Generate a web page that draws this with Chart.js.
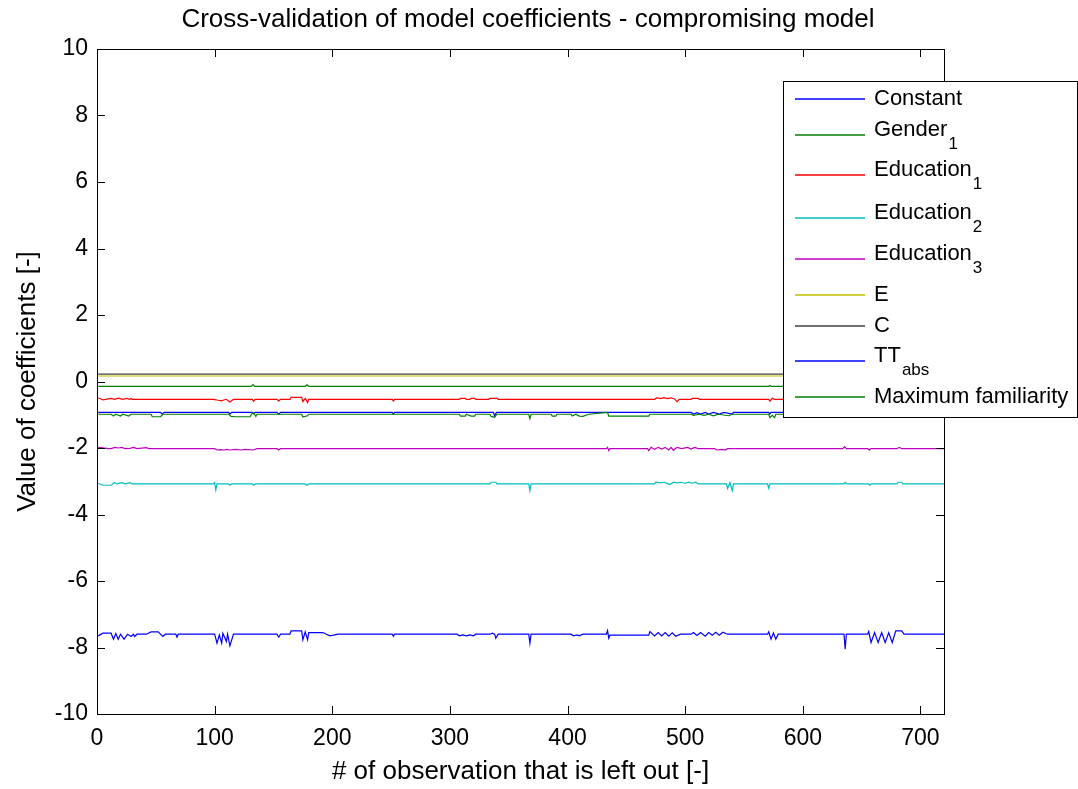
<!DOCTYPE html>
<html lang="en">
<head>
<meta charset="UTF-8">
<title>Cross-validation of model coefficients</title>
<script src="https://cdn.jsdelivr.net/npm/chart.js@4/dist/chart.umd.min.js"></script>
<style>
  body { margin: 0; background: #fff; }
  canvas { display: block; }
</style>
</head>
<body>
<canvas id="myChart" width="1078" height="789"></canvas>
<script>
const chartTitle = "Cross-validation of model coefficients - compromising model";

// legend labels (name + subscript)
const seriesNames = ["Constant", "Gender", "Education", "Education", "Education", "E", "C", "TT", "Maximum familiarity"];
const seriesSubs = ["", "1", "1", "2", "3", "", "", "abs", ""];
const seriesColors = ["#0000ff", "#008000", "#ff0000", "#00bfbf", "#bf00bf", "#bfbf00", "#404040", "#0000ff", "#008000"];

const xTicks = [0, 100, 200, 300, 400, 500, 600, 700];
const yTicks = [-10, -8, -6, -4, -2, 0, 2, 4, 6, 8, 10];

// values: [left-out observation, coefficient]
const constantPts = [[1,-7.65],[5,-7.57],[12,-7.57],[14,-7.75],[16,-7.58],[18,-7.75],[20,-7.6],[23,-7.75],[26,-7.6],[29,-7.67],[31,-7.6],[32,-7.67],[34,-7.6],[42,-7.6],[46,-7.53],[52,-7.53],[56,-7.67],[58,-7.6],[67,-7.6],[68,-7.69],[69,-7.6],[100,-7.6],[102,-7.87],[104,-7.62],[106,-7.87],[107,-7.57],[110,-7.82],[111,-7.6],[113,-7.95],[116,-7.6],[153,-7.6],[154.5,-7.69],[156,-7.6],[164,-7.6],[165,-7.5],[174,-7.5],[175,-7.77],[177,-7.53],[179,-7.77],[180,-7.55],[192,-7.55],[195,-7.6],[198,-7.65],[201,-7.63],[205,-7.6],[251,-7.6],[252,-7.66],[253,-7.6],[306,-7.6],[308,-7.65],[311,-7.62],[314,-7.65],[317,-7.62],[320,-7.65],[322,-7.6],[334,-7.6],[336,-7.57],[338,-7.6],[339,-7.72],[341,-7.6],[367,-7.6],[368,-7.87],[369,-7.6],[403,-7.6],[405,-7.65],[408,-7.62],[410,-7.65],[413,-7.6],[433,-7.6],[434,-7.49],[435,-7.72],[436,-7.63],[469,-7.63],[470,-7.52],[474,-7.65],[477,-7.55],[480,-7.65],[483,-7.55],[486,-7.66],[489,-7.56],[492,-7.66],[496,-7.6],[505,-7.6],[507,-7.55],[510,-7.64],[513,-7.55],[517,-7.66],[520,-7.55],[523,-7.63],[526,-7.54],[529,-7.63],[532,-7.54],[536,-7.6],[570,-7.6],[571,-7.53],[573,-7.75],[575,-7.56],[577,-7.75],[579,-7.6],[635,-7.6],[636,-8.05],[637,-7.6],[655,-7.6],[656,-7.52],[658,-7.85],[661,-7.55],[664,-7.85],[667,-7.55],[670,-7.85],[673,-7.56],[676,-7.85],[679,-7.5],[684,-7.5],[686,-7.6],[720,-7.6]];
const gender1Pts = [[1,-0.145],[131,-0.145],[132.6,-0.09],[134,-0.145],[177,-0.145],[178.5,-0.1],[180,-0.145],[571,-0.145],[572,-0.12],[573,-0.145],[720,-0.145]];
const edu1Pts = [[1,-0.49],[5,-0.555],[12,-0.51],[15,-0.535],[18,-0.5],[22,-0.535],[25,-0.51],[28,-0.535],[29,-0.51],[30,-0.535],[99,-0.535],[103,-0.565],[106,-0.585],[107,-0.565],[110,-0.535],[113,-0.615],[116,-0.535],[132,-0.535],[133,-0.595],[134.5,-0.535],[153,-0.535],[154.5,-0.585],[156,-0.535],[164,-0.535],[165,-0.475],[174,-0.475],[175,-0.605],[177,-0.505],[179,-0.635],[180,-0.535],[251,-0.535],[252,-0.585],[253,-0.535],[308,-0.535],[309,-0.505],[313,-0.505],[314,-0.535],[317,-0.535],[318,-0.505],[321,-0.505],[322,-0.535],[333,-0.535],[334,-0.505],[340,-0.505],[341,-0.535],[474,-0.535],[476,-0.485],[479,-0.515],[482,-0.485],[485,-0.515],[488,-0.49],[491,-0.525],[493,-0.605],[495,-0.535],[505,-0.535],[506,-0.505],[511,-0.505],[512,-0.535],[571,-0.535],[572,-0.595],[574,-0.505],[576,-0.535],[720,-0.535]];
const edu2Pts = [[1,-3.06],[5,-3.12],[12,-3.12],[15,-3.04],[17,-3.08],[21,-3.04],[24,-3.08],[28,-3.04],[30,-3.08],[99,-3.08],[100,-3.04],[101,-3.26],[102,-3.08],[112,-3.08],[113,-3.12],[114.5,-3.08],[132,-3.08],[133,-3.12],[134.5,-3.08],[177,-3.08],[178.5,-3.12],[180,-3.08],[334,-3.08],[335,-3.03],[339,-3.03],[340,-3.08],[367,-3.08],[368,-3.28],[369,-3.08],[474,-3.08],[475,-3.03],[479,-3.05],[482,-3.03],[485,-3.07],[487,-3.1],[490,-3.03],[493,-3.05],[496,-3.03],[500,-3.06],[503,-3.03],[506,-3.06],[509,-3.03],[511,-3.08],[535,-3.08],[536,-3.22],[538,-3.04],[540,-3.28],[541,-3.08],[570,-3.08],[571,-3.21],[572,-3.08],[635,-3.08],[636,-3.03],[637,-3.08],[656,-3.08],[657,-3.12],[658,-3.08],[680,-3.08],[681,-3.03],[684,-3.03],[685,-3.08],[720,-3.08]];
const edu3Pts = [[1,-1.98],[10,-2.02],[12,-2.02],[15,-1.98],[18,-2.0],[21,-1.98],[24,-2.02],[28,-2.01],[31,-1.98],[34,-2.02],[42,-1.99],[44,-2.02],[100,-2.02],[102,-2.06],[105,-2.05],[108,-2.06],[110,-2.04],[113,-2.06],[118,-2.04],[122,-2.06],[126,-2.04],[133,-2.06],[136,-2.02],[153,-2.02],[154.5,-2.06],[156,-2.02],[433,-2.02],[434,-1.98],[435,-2.08],[436,-2.02],[468,-2.02],[469,-2.08],[471,-1.98],[474,-2.04],[477,-1.98],[480,-2.03],[483,-1.98],[486,-2.06],[488,-1.98],[490,-2.07],[493,-1.98],[497,-2.02],[502,-1.98],[505,-2.03],[508,-1.98],[511,-2.02],[525,-2.02],[527,-2.06],[531,-2.04],[534,-2.06],[536,-2.02],[634,-2.02],[635.5,-1.96],[637,-2.02],[655,-2.02],[656.6,-2.06],[658,-2.02],[680,-2.02],[682,-1.98],[684,-2.02],[720,-2.02]];
const ePts = [[1,0.165],[720,0.165]];
const cPts = [[1,0.22],[720,0.22]];
const ttAbsPts = [[1,-0.93],[54,-0.93],[55.5,-0.98],[57,-0.93],[112,-0.93],[113,-0.98],[114.5,-0.93],[132,-0.93],[133,-0.97],[134.5,-0.93],[153,-0.93],[154.5,-0.98],[156,-0.93],[251,-0.93],[252,-0.98],[253,-0.93],[337,-0.93],[338,-1.04],[339.5,-0.93],[505,-0.93],[507,-0.98],[510,-0.94],[513,-0.98],[517,-0.93],[520,-0.98],[524,-0.93],[529,-0.98],[533,-0.93],[540,-0.98],[541,-0.93],[571,-0.93],[572,-0.98],[573,-0.93],[720,-0.93]];
const maxFamPts = [[1,-0.985],[12,-0.985],[14,-1.04],[16,-0.985],[20,-1.04],[22,-0.985],[27,-1.04],[29,-0.985],[46,-0.985],[47,-1.06],[54,-1.06],[56,-0.985],[112,-0.985],[114,-1.05],[118,-1.06],[130,-1.06],[132.5,-0.93],[134,-0.985],[135,-1.05],[136,-0.985],[174,-0.985],[175,-1.06],[177,-1.05],[179,-1.03],[180,-0.985],[308,-0.985],[309,-1.04],[313,-1.04],[314,-0.985],[318,-1.04],[321,-1.04],[322,-0.985],[334,-0.985],[335,-1.05],[338,-1.08],[340,-0.985],[367,-0.985],[368,-1.12],[369,-0.985],[386,-0.985],[387,-1.04],[390,-1.04],[391,-0.985],[403,-0.985],[404,-1.04],[407,-0.985],[410,-1.04],[413,-1.05],[418,-0.985],[434,-0.93],[435,-1.04],[469,-1.04],[470,-0.985],[505,-0.985],[507,-1.02],[512,-0.985],[516,-1.02],[520,-0.985],[524,-1.03],[528,-0.985],[537,-1.03],[540,-0.985],[571,-0.985],[572,-1.09],[574,-1.02],[576,-1.09],[577,-0.985],[720,-0.985]];

const allSeries = [constantPts, gender1Pts, edu1Pts, edu2Pts, edu3Pts, ePts, cPts, ttAbsPts, maxFamPts];

const FONT = "'Liberation Sans', Arial, sans-serif";

// MATLAB-like box with inward ticks on all sides, title and legend
const boxPlugin = {
    id: "box",
    afterDraw(chart) {
        const ctx = chart.ctx;
        const a = chart.chartArea;
        const xs = chart.scales.x, ys = chart.scales.y;
        const tl = 8;
        ctx.save();
        ctx.strokeStyle = "#000";
        ctx.lineWidth = 1;
        ctx.beginPath();
        xTicks.forEach(v => {
            const px = Math.round(xs.getPixelForValue(v)) + 0.5;
            ctx.moveTo(px, a.bottom); ctx.lineTo(px, a.bottom - tl);
            ctx.moveTo(px, a.top); ctx.lineTo(px, a.top + tl);
        });
        yTicks.forEach(v => {
            const py = Math.round(ys.getPixelForValue(v)) + 0.5;
            ctx.moveTo(a.left, py); ctx.lineTo(a.left + tl, py);
            ctx.moveTo(a.right, py); ctx.lineTo(a.right - tl, py);
        });
        ctx.stroke();
        ctx.strokeRect(Math.round(a.left) + 0.5, Math.round(a.top) + 0.5, Math.round(a.right - a.left), Math.round(a.bottom - a.top));

        // title
        ctx.fillStyle = "#000";
        ctx.textAlign = "center";
        ctx.textBaseline = "middle";
        ctx.font = "26px " + FONT;
        ctx.fillText(chartTitle, 528, 20);

        // legend
        const lx = 783, ly = 81, lw = 294, lh = 336;
        const rowY = [99, 135, 175, 218, 259, 295, 326, 361, 397];
        ctx.fillStyle = "#fff";
        ctx.fillRect(lx, ly, lw, lh);
        ctx.strokeRect(lx + 0.5, ly + 0.5, lw, lh);
        ctx.lineWidth = 1.5;
        seriesNames.forEach((name, i) => {
            const y = rowY[i];
            ctx.strokeStyle = seriesColors[i];
            ctx.beginPath();
            ctx.moveTo(795, y); ctx.lineTo(865, y);
            ctx.stroke();
            ctx.fillStyle = "#000";
            ctx.textAlign = "left";
            ctx.textBaseline = "middle";
            ctx.font = "22px " + FONT;
            const sub = seriesSubs[i];
            const ty = sub ? y - 5 : y;
            ctx.fillText(name, 874, ty);
            if (sub) {
                const w = ctx.measureText(name).width;
                ctx.font = "17px " + FONT;
                ctx.fillText(sub, 874 + w + 1, y + 9);
            }
        });
        ctx.restore();
    }
};

new Chart("myChart", {
    type: "line",
    data: {
        datasets: allSeries.map((pts, i) => ({
            label: seriesNames[i] + seriesSubs[i],
            data: pts.map(p => ({ x: p[0], y: p[1] })),
            borderColor: seriesColors[i],
            borderWidth: 1.2,
            pointRadius: 0,
            fill: false,
            tension: 0,
            order: allSeries.length - i
        }))
    },
    options: {
        responsive: false,
        animation: false,
        devicePixelRatio: 1,
        layout: { padding: { left: 0, right: 134, top: 49, bottom: 0 } },
        plugins: {
            legend: { display: false },
            tooltip: { enabled: false },
            title: { display: false }
        },
        scales: {
            x: {
                type: "linear",
                min: 0, max: 720,
                grid: { display: false, drawTicks: false },
                border: { display: false },
                ticks: { stepSize: 100, includeBounds: false, color: "#000", padding: 11,
                         font: { family: FONT, size: 23 } },
                title: { display: true, text: "# of observation that is left out [-]", color: "#000",
                         font: { family: FONT, size: 26 }, padding: { top: 2, bottom: 2 } },
                afterFit: s => { s.height = 75; }
            },
            y: {
                min: -10, max: 10,
                grid: { display: false, drawTicks: false },
                border: { display: false },
                ticks: { stepSize: 2, color: "#000", padding: 9,
                         font: { family: FONT, size: 23 } },
                title: { display: true, text: "Value of coefficients [-]", color: "#000",
                         font: { family: FONT, size: 26 }, padding: { top: 12, bottom: 2 } },
                afterFit: s => { s.width = 97; }
            }
        }
    },
    plugins: [boxPlugin]
});
</script>
</body>
</html>
